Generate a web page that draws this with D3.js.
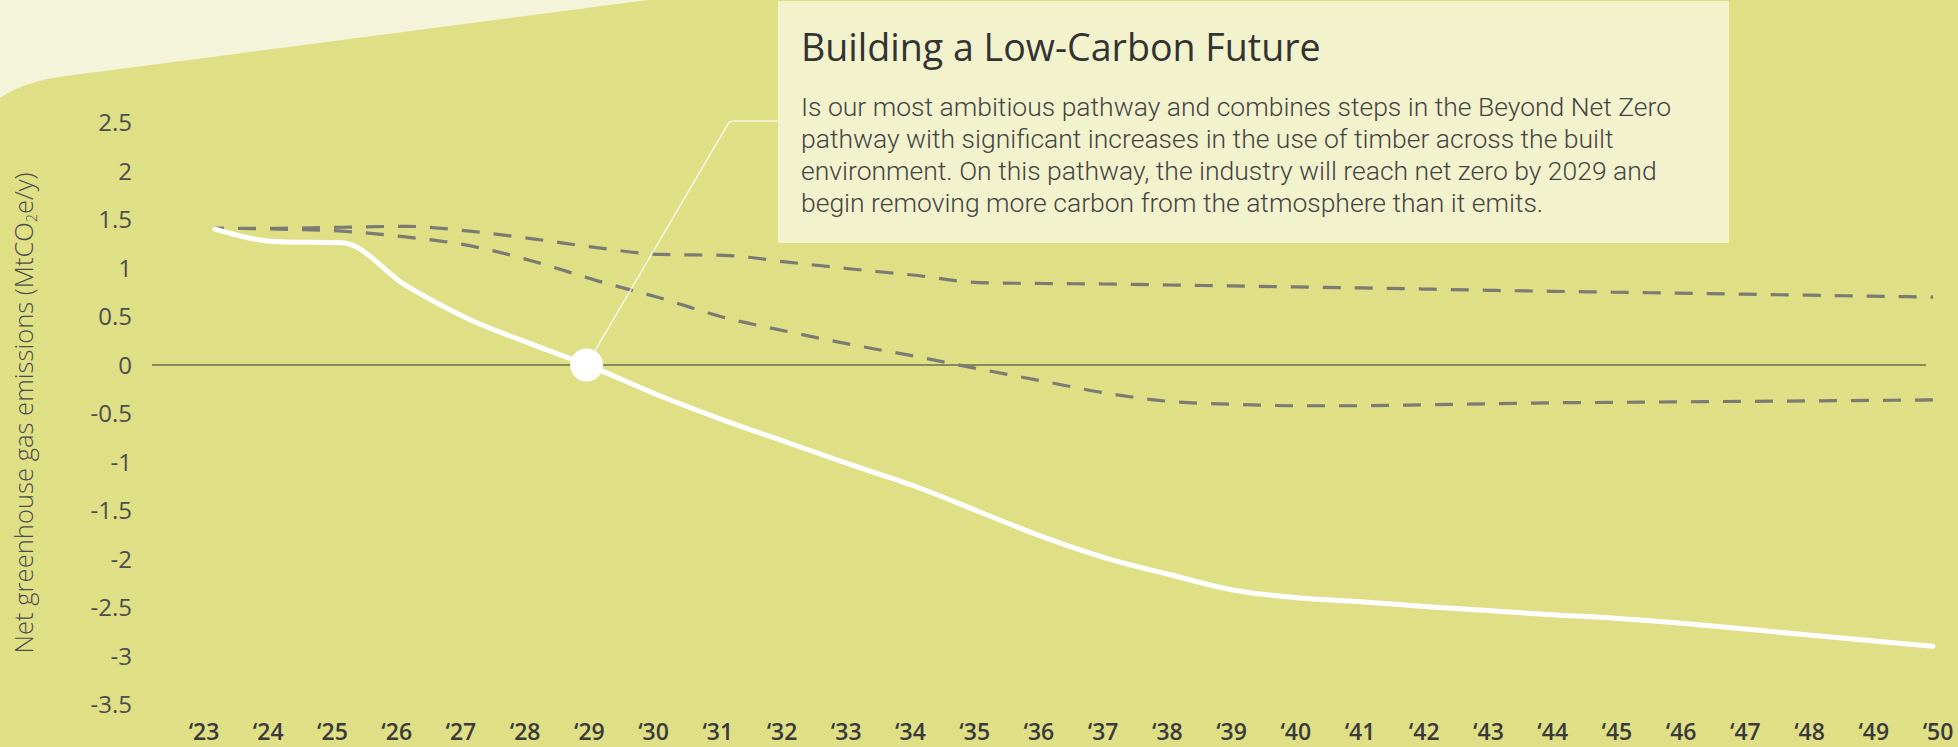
<!DOCTYPE html>
<html>
<head>
<meta charset="utf-8">
<script src="https://cdn.jsdelivr.net/npm/d3@7"></script>
<style>
  html, body { margin: 0; padding: 0; background: #dfdf86; }
  svg { display: block; }
</style>
</head>
<body>
<svg id="chart" width="1958" height="747"></svg>
<script>
// Years on the horizontal axis
const years = [2023, 2024, 2025, 2026, 2027, 2028, 2029, 2030, 2031, 2032, 2033, 2034, 2035, 2036,
               2037, 2038, 2039, 2040, 2041, 2042, 2043, 2044, 2045, 2046, 2047, 2048, 2049, 2050];
const yearLabels = ["\u201823", "\u201824", "\u201825", "\u201826", "\u201827", "\u201828", "\u201829",
                    "\u201830", "\u201831", "\u201832", "\u201833", "\u201834", "\u201835", "\u201836",
                    "\u201837", "\u201838", "\u201839", "\u201840", "\u201841", "\u201842", "\u201843",
                    "\u201844", "\u201845", "\u201846", "\u201847", "\u201848", "\u201849", "\u201850"];

// Net emissions, MtCO2e/y
const lowCarbon = [1.40, 1.27, 1.26, 0.82, 0.47, 0.21, -0.04, -0.32, -0.57, -0.80, -1.03, -1.25, -1.51, -1.77,
                   -1.99, -2.16, -2.32, -2.40, -2.44, -2.49, -2.53, -2.575, -2.61, -2.66, -2.72, -2.78, -2.84, -2.90];
const upperPathway = [1.41, 1.41, 1.42, 1.43, 1.38, 1.30, 1.21, 1.14, 1.13, 1.06, 0.99, 0.925, 0.85, 0.84,
                      0.835, 0.825, 0.815, 0.805, 0.795, 0.783, 0.77, 0.76, 0.75, 0.74, 0.73, 0.72, 0.71, 0.70];
const lowerPathway = [1.41, 1.40, 1.38, 1.32, 1.23, 1.07, 0.87, 0.69, 0.49, 0.345, 0.21, 0.09, -0.04, -0.165,
                      -0.29, -0.375, -0.405, -0.42, -0.42, -0.41, -0.40, -0.39, -0.385, -0.38, -0.375, -0.37, -0.365, -0.36];

// Point where the highlighted pathway reaches net zero
const netZeroPoint = { year: 2028.84, value: 0 };

const yTicks = [2.5, 2, 1.5, 1, 0.5, 0, -0.5, -1, -1.5, -2, -2.5, -3, -3.5];

const calloutTitle = "Building a Low-Carbon Future";
const calloutLines = [
  "Is our most ambitious pathway and combines steps in the Beyond Net Zero",
  "pathway with significant increases in the use of timber across the built",
  "environment. On this pathway, the industry will reach net zero by 2029 and",
  "begin removing more carbon from the atmosphere than it emits."
];

const svg = d3.select("#chart");
const W = 1958, H = 747;

const x = d3.scaleLinear().domain([2023, 2050]).range([215, 1933]);
const xLabel = d3.scalePoint().domain(years).range([204, 1938]);
const y = d3.scaleLinear().domain([-3.5, 2.5]).range([704.5, 122.5]);

// Backdrop
svg.append("rect").attr("width", W).attr("height", H).attr("fill", "#dfdf86");
svg.append("path")
  .attr("d", "M0,0 L648,0 L66,76 C38,79.7 18,86 0,98 Z")
  .attr("fill", "#f3f4d9");

// Callout panel
svg.append("rect")
  .attr("x", 778).attr("y", 1).attr("width", 951).attr("height", 242)
  .attr("fill", "#f2f2cd");
svg.append("text")
  .attr("x", 801).attr("y", 61)
  .attr("font-family", "'Open Sans', sans-serif")
  .attr("font-size", 37.6)
  .attr("fill", "#333333")
  .text(calloutTitle);
svg.append("g").selectAll("text")
  .data(calloutLines)
  .join("text")
  .attr("x", 801)
  .attr("y", (d, i) => 116 + i * 32)
  .attr("font-family", "Roboto, sans-serif")
  .attr("font-weight", 300)
  .attr("font-size", 26.5)
  .attr("fill", "#444444")
  .text(d => d);

// Y axis labels
svg.append("g").selectAll("text")
  .data(yTicks)
  .join("text")
  .attr("x", 132)
  .attr("y", d => y(d))
  .attr("dy", "0.36em")
  .attr("text-anchor", "end")
  .attr("font-family", "'Open Sans', sans-serif")
  .attr("font-size", 24)
  .attr("fill", "#4d4d4d")
  .text(d => String(d));

// Y axis title
const yTitle = svg.append("text")
  .attr("transform", "translate(33,413) rotate(-90)")
  .attr("text-anchor", "middle")
  .attr("font-family", "'Open Sans', sans-serif")
  .attr("font-weight", 300)
  .attr("font-size", 25.6)
  .attr("fill", "#4d4d4d");
yTitle.append("tspan").text("Net greenhouse gas emissions (MtCO");
yTitle.append("tspan").attr("font-size", 14).attr("dy", 4).text("2");
yTitle.append("tspan").attr("dy", -4).text("e/y)");

// X axis labels
svg.append("g").selectAll("text")
  .data(years)
  .join("text")
  .attr("x", d => xLabel(d))
  .attr("y", 740)
  .attr("text-anchor", "middle")
  .attr("font-family", "'Open Sans', sans-serif")
  .attr("font-weight", 600)
  .attr("font-size", 23)
  .attr("fill", "#3a3a3a")
  .text((d, i) => yearLabels[i]);

// Zero baseline
svg.append("line")
  .attr("x1", 152).attr("x2", 1926)
  .attr("y1", y(0)).attr("y2", y(0))
  .attr("stroke", "#6c6c50")
  .attr("stroke-width", 1.6);

const line = d3.line()
  .x(d => x(d[0]))
  .y(d => y(d[1]))
  .curve(d3.curveMonotoneX);

// Comparison pathways (dashed)
[upperPathway, lowerPathway].forEach(series => {
  svg.append("path")
    .datum(years.map((yr, i) => [yr, series[i]]))
    .attr("d", line)
    .attr("fill", "none")
    .attr("stroke", "#7b7b74")
    .attr("stroke-width", 3.2)
    .attr("stroke-dasharray", "18 14")
    .attr("stroke-dashoffset", 9);
});

// Highlighted pathway
svg.append("path")
  .datum(years.map((yr, i) => [yr, lowCarbon[i]]))
  .attr("d", line)
  .attr("fill", "none")
  .attr("stroke", "#ffffff")
  .attr("stroke-width", 5)
  .attr("stroke-linecap", "round")
  .attr("stroke-linejoin", "round");

// Leader from the net-zero marker to the callout
const cx = x(netZeroPoint.year), cy = y(netZeroPoint.value);
svg.append("path")
  .attr("d", `M${cx},${cy} L728,124 Q730,121 734,121 L778,121`)
  .attr("fill", "none")
  .attr("stroke", "#ffffff")
  .attr("stroke-opacity", 0.75)
  .attr("stroke-width", 1.5);

svg.append("circle")
  .attr("cx", cx).attr("cy", cy).attr("r", 16.5)
  .attr("fill", "#ffffff");
</script>
</body>
</html>
